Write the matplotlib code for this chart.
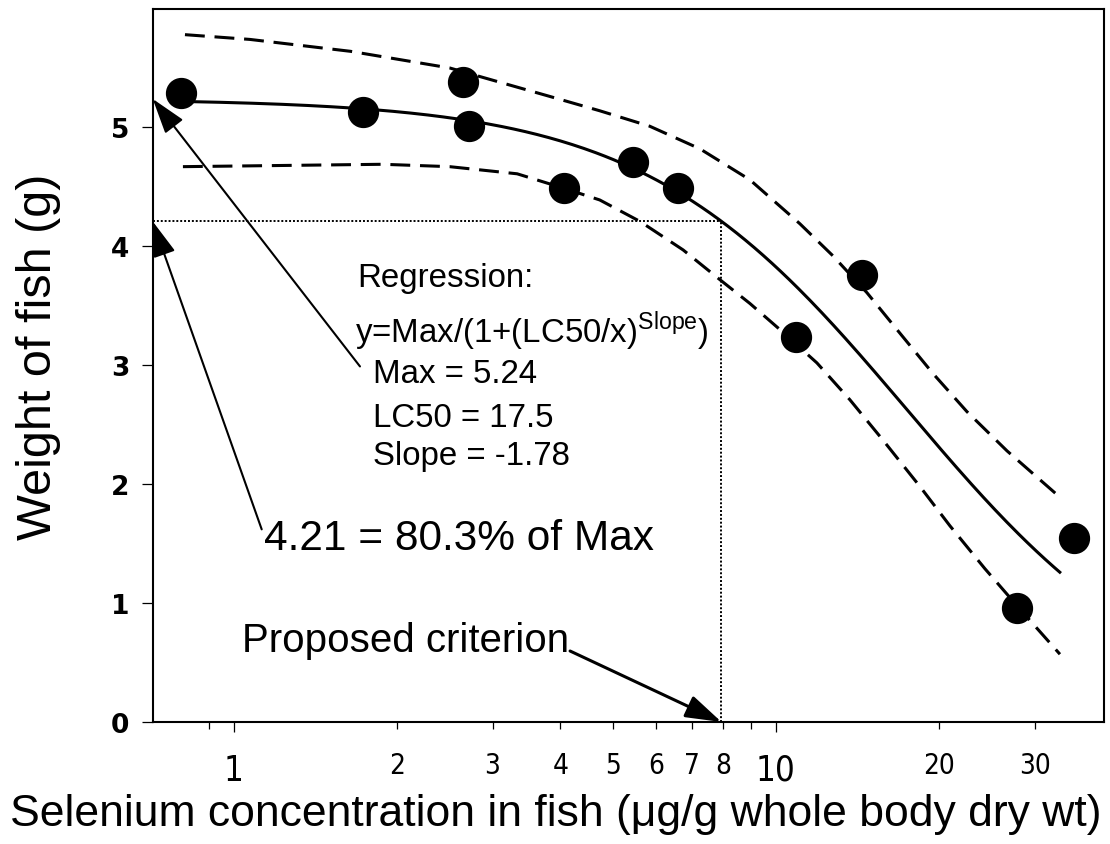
import numpy as np
import matplotlib
matplotlib.use("Agg")
import matplotlib.pyplot as plt
from matplotlib import font_manager
from matplotlib.ticker import FixedLocator, FixedFormatter

plt.rcParams['font.family'] = ['Liberation Sans', 'DejaVu Sans']
plt.rcParams['mathtext.fontset'] = 'custom'
plt.rcParams['mathtext.rm'] = 'Liberation Sans'

# Measured fish weight vs. whole-body selenium
se_conc = [0.80, 1.73, 2.65, 2.72, 4.06, 5.45, 6.59, 10.9, 14.4, 27.9, 35.5]
fish_wt = [5.29, 5.13, 5.38, 5.01, 4.49, 4.71, 4.49, 3.24, 3.76, 0.96, 1.55]

# Dashed band above the fit
upper_x = [0.812, 1.07, 1.64, 2.50, 3.83, 4.73, 5.85, 7.24, 8.95, 11.07, 12.74,
           14.72, 16.93, 19.49, 22.51, 26.69, 33.42]
upper_y = [5.78, 5.74, 5.64, 5.50, 5.26, 5.14, 5.01, 4.82, 4.56, 4.19, 3.92,
           3.61, 3.27, 2.93, 2.61, 2.28, 1.89]

# Dashed band below the fit
lower_x = [0.805, 1.23, 1.88, 2.50, 3.33, 4.05, 4.73, 5.61, 6.74, 7.88, 8.95,
           10.17, 11.90, 13.69, 15.76, 18.44, 20.94, 24.29, 28.19, 33.42]
lower_y = [4.67, 4.68, 4.69, 4.67, 4.61, 4.49, 4.39, 4.21, 3.97, 3.72, 3.52,
           3.30, 3.02, 2.71, 2.37, 1.98, 1.65, 1.29, 0.95, 0.57]

# Regression parameters
fit_max = 5.24
fit_lc50 = 17.5
fit_slope = -1.78
crit_y = 4.21
crit_pct = 80.3

xlim = (0.708, 40.3)
ylim = (0, 6)


def fit_curve(x):
    return fit_max / (1 + (fit_lc50 / x) ** fit_slope)


# x where the fitted curve hits the criterion weight
crit_x = fit_lc50 / (fit_max / crit_y - 1) ** (1 / fit_slope)

# condensed face for the x tick numbers, if one is around
cond = font_manager.FontProperties(family='DejaVu Sans', stretch='condensed')
if 'Condensed' in font_manager.findfont(cond, fallback_to_default=False):
    tick_font = dict(family='DejaVu Sans', stretch='condensed')
else:
    tick_font = dict(family='Liberation Sans')

fig = plt.figure(figsize=(11.1, 8.45), dpi=100)
ax = fig.add_axes([152.7 / 1110, 1 - 723 / 845, (1104 - 152.7) / 1110, (723 - 9.5) / 845])

xs = np.logspace(np.log10(0.80), np.log10(33.4), 300)
ax.plot(xs, fit_curve(xs), color='black', lw=2.2, zorder=3)
ax.plot(upper_x, upper_y, color='black', lw=2.2, linestyle=(0, (6.5, 3.2)), zorder=3)
ax.plot(lower_x, lower_y, color='black', lw=2.2, linestyle=(0, (6.5, 3.2)), zorder=3)
ax.plot(se_conc, fish_wt, 'o', color='black', markersize=21.5, zorder=4)

# criterion guide lines
ax.plot([xlim[0], crit_x], [crit_y, crit_y], color='black', lw=1.4, linestyle=(0, (1, 1)), zorder=2)
ax.plot([crit_x, crit_x], [0, crit_y], color='black', lw=1.4, linestyle=(0, (1, 1)), zorder=2)

ax.set_xscale('log')
ax.set_xlim(*xlim)
ax.set_ylim(*ylim)

major_x = [1, 10]
minor_x = [0.9, 2, 3, 4, 5, 6, 7, 8, 9, 20, 30]
minor_lbl = ['', '2', '3', '4', '5', '6', '7', '8', '', '20', '30']
ax.xaxis.set_major_locator(FixedLocator(major_x))
ax.xaxis.set_major_formatter(FixedFormatter(['1', '10']))
ax.xaxis.set_minor_locator(FixedLocator(minor_x))
ax.xaxis.set_minor_formatter(FixedFormatter(minor_lbl))
ax.set_yticks([0, 1, 2, 3, 4, 5])
ax.set_yticklabels(['0', '1', '2', '3', '4', '5'])

ax.tick_params(axis='x', which='major', length=7, width=0.9, pad=15, labelsize=25)
ax.tick_params(axis='x', which='minor', length=5, width=0.9, pad=16, labelsize=20)
ax.tick_params(axis='y', which='major', length=8, width=0.9, pad=9)
for lbl in ax.get_xticklabels(which='both'):
    lbl.set(**tick_font)
for lbl in ax.get_yticklabels():
    lbl.set(family='DejaVu Sans', fontweight='bold', fontsize=19)

for sp in ax.spines.values():
    sp.set_linewidth(1.5)

fig.text(0.501, 0.0225, 'Selenium concentration in fish (\u03bcg/g whole body dry wt)',
         ha='center', va='baseline', fontsize=32)
fig.text(0.035, 0.5775, 'Weight of fish (g)', rotation=90, ha='center', va='center', fontsize=35)

# regression notes
note_size = 23.8
ax.text(1.686, 3.664, 'Regression:', fontsize=note_size)
ax.text(1.672, 3.20, r'y=Max/(1+(LC50/x)$^{\mathregular{Slope}}$)', fontsize=note_size)
ax.text(1.805, 2.857, f'Max = {fit_max}', fontsize=note_size)
ax.text(1.805, 2.487, f'LC50 = {fit_lc50}', fontsize=note_size)
ax.text(1.805, 2.168, f'Slope = {fit_slope}', fontsize=note_size)

arrow = dict(arrowstyle='-|>,head_length=1.1,head_width=0.35', mutation_scale=20,
             color='black', lw=1.5, shrinkA=0, shrinkB=0)
ax.annotate('', xy=(xlim[0], fit_max), xytext=(1.708, 2.99), arrowprops=arrow)
ax.annotate('', xy=(xlim[0], crit_y), xytext=(1.125, 1.62), arrowprops=arrow)
ax.text(1.135, 1.454, f'{crit_y} = {crit_pct}% of Max', fontsize=30.5)

arrow2 = dict(arrow, lw=2.2)
ax.annotate('', xy=(crit_x, 0), xytext=(4.17, 0.597), arrowprops=arrow2)
ax.text(1.035, 0.597, 'Proposed criterion', fontsize=29)

fig.savefig('out.png', dpi=100)
